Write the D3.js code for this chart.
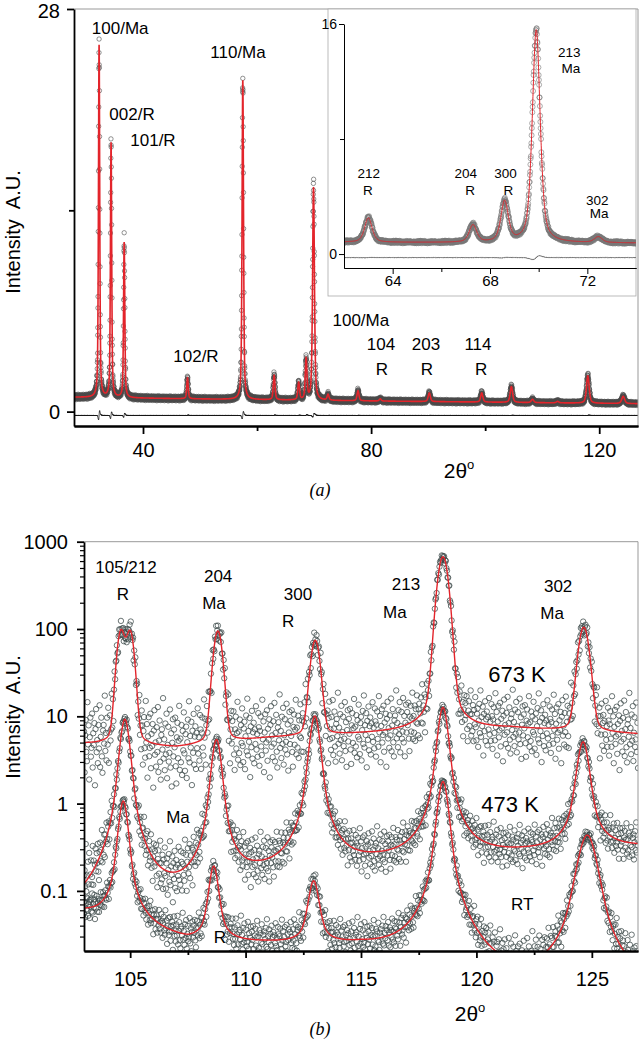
<!DOCTYPE html>
<html>
<head>
<meta charset="utf-8">
<script src="https://cdn.jsdelivr.net/npm/d3@7"></script>
<style>
  body { margin: 0; background: #fff; }
  svg { display: block; font-family: "Liberation Sans", Arial, sans-serif; }
</style>
</head>
<body>
<div id="chart"></div>
<script>
// ---- data ----

// panel (a): peak list of the whole pattern (2theta, height above background, FWHM)
const peaksA = [
    { pos: 32.3, h: 24.5, w: 0.26 },   // 100/Ma
    { pos: 34.4, h: 17.7, w: 0.26 },   // 002/R
    { pos: 36.7, h: 10.8, w: 0.26 },   // 101/R
    { pos: 47.8, h: 1.45, w: 0.3 },    // 102/R
    { pos: 57.5, h: 22.2, w: 0.3 },    // 110/Ma
    { pos: 63.0, h: 1.7, w: 0.36 },    // 212/R
    { pos: 67.3, h: 1.2, w: 0.36 },    // 204/R
    { pos: 68.6, h: 2.8, w: 0.36 },    // 300/R
    { pos: 69.9, h: 14.8, w: 0.38 },   // 213/Ma
    { pos: 72.45, h: 0.4, w: 0.38 },   // 302/Ma
    { pos: 77.7, h: 0.7, w: 0.4 },
    { pos: 81.6, h: 0.15, w: 0.4 },
    { pos: 90.2, h: 0.6, w: 0.45 },
    { pos: 99.4, h: 0.64, w: 0.45 },
    { pos: 104.6, h: 1.1, w: 0.5 },
    { pos: 108.3, h: 0.23, w: 0.5 },
    { pos: 112.7, h: 0.1, w: 0.5 },
    { pos: 118.0, h: 1.9, w: 0.55 },
    { pos: 124.2, h: 0.5, w: 0.6 }
];
const bgPosA = [28, 65, 95, 127];
const bgValA = [1.0, 0.8, 0.68, 0.55];

// panel (b): three temperatures, log scale
const peaks673 = [
    { pos: 104.6, h: 90, w: 0.36 }, { pos: 105.0, h: 88, w: 0.36 },
    { pos: 108.8, h: 90, w: 0.4 }, { pos: 113.02, h: 68, w: 0.42 },
    { pos: 118.55, h: 665, w: 0.48 }, { pos: 124.65, h: 98, w: 0.48 }
];
const bgPos673 = [103, 107, 111, 115, 121.5, 127];
const bgVal673 = [4.8, 4.3, 5.6, 6.2, 7.2, 6.2];

const peaks473 = [
    { pos: 104.77, h: 9.2, w: 0.42 }, { pos: 108.74, h: 5.3, w: 0.42 },
    { pos: 113.0, h: 9.9, w: 0.44 }, { pos: 118.55, h: 12.4, w: 0.44 },
    { pos: 124.62, h: 4.8, w: 0.5 }
];
const bgPos473 = [103, 107, 110.5, 115.5, 122, 127];
const bgVal473 = [0.035, 0.06, 0.12, 0.19, 0.26, 0.31];

const peaksRT = [
    { pos: 104.7, h: 1.03, w: 0.4 }, { pos: 108.62, h: 0.165, w: 0.4 },
    { pos: 112.95, h: 0.105, w: 0.45 }, { pos: 118.55, h: 1.77, w: 0.46 },
    { pos: 124.8, h: 0.43, w: 0.8 }
];
const bgPosRT = [103, 107.5, 111, 115, 118.5, 121.8, 127];
const bgValRT = [0.055, 0.025, 0.024, 0.022, 0.016, 0.005, 0.004];

// scatter of the measured points around the fit (in standard deviations)
const scatter = [
    0.42, -1.13, 0.27, 0.85, -0.36, -0.71, 1.52, -0.08, 0.64, -1.41,
    0.19, 0.93, -0.55, -0.22, 1.08, -0.97, 0.33, -0.12, 0.71, -1.66,
    0.48, 1.24, -0.41, 0.05, -0.84, 0.62, -0.29, 1.37, -1.02, 0.14,
    0.88, -0.63, -1.28, 0.36, 0.57, -0.17, 1.71, -0.49, 0.21, -0.91,
    0.79, -0.33, 1.15, -1.19, 0.02, 0.68, -0.58, -0.26, 1.31, -0.79,
    0.45, -1.47, 0.11, 0.96, -0.38, 0.59, -0.05, 1.02, -0.73, -1.35,
    0.31, 0.83, -0.45, 0.18, 1.44, -0.88, 0.25, -0.61, 0.74, -1.08,
    0.52, -0.19, 1.19, -0.31, -0.95, 0.39, 0.66, -1.23, 0.08, 0.91,
    -0.52, 1.58, -0.68, 0.29, -0.14, 0.81, -1.55, 0.47, -0.36, 1.09,
    -0.82, 0.23, 0.61, -1.01, 0.35, -0.24, 1.27, -0.47, 0.15, -0.76,
    0.99
];

// tick values
const ticksAx = [40, 80, 120], minorAx = [60, 100];
const ticksAy = [0, 28], minorAy = [14];
const ticksIx = [64, 68, 72], minorIx = [66, 70];
const ticksIy = [0, 16], minorIy = [8];
const ticksBx = [105, 110, 115, 120, 125], minorBx = [107.5, 112.5, 117.5, 122.5];
const ticksBy = [0.1, 1, 10, 100, 1000];

// annotations (data coordinates)
const labelsA = [
    { t: "100/Ma", x: 36.0, y: 26.26 }, { t: "002/R", x: 38.07, y: 20.28 },
    { t: "101/R", x: 41.75, y: 18.47 }, { t: "110/Ma", x: 56.66, y: 24.59 },
    { t: "102/R", x: 49.29, y: 3.44 }, { t: "100/Ma", x: 78.2, y: 5.95 },
    { t: "104", x: 81.73, y: 4.28 }, { t: "R", x: 81.9, y: 2.54 },
    { t: "203", x: 89.62, y: 4.28 }, { t: "R", x: 89.8, y: 2.54 },
    { t: "114", x: 98.74, y: 4.28 }, { t: "R", x: 99.3, y: 2.54 }
];
const labelsI = [
    { t: "212", x: 63.02, y: 5.29 }, { t: "R", x: 62.98, y: 4.1 },
    { t: "204", x: 67.0, y: 5.29 }, { t: "R", x: 67.18, y: 4.1 },
    { t: "300", x: 68.64, y: 5.29 }, { t: "R", x: 68.76, y: 4.1 },
    { t: "213", x: 71.26, y: 13.7 }, { t: "Ma", x: 71.32, y: 12.59 },
    { t: "302", x: 72.41, y: 3.41 }, { t: "Ma", x: 72.49, y: 2.5 }
];
const labelsB = [
    { t: "105/212", x: 104.82, y: 443 }, { t: "R", x: 104.69, y: 217 },
    { t: "204", x: 108.81, y: 349 }, { t: "Ma", x: 108.63, y: 171 },
    { t: "300", x: 112.27, y: 217 }, { t: "R", x: 111.84, y: 106 },
    { t: "213", x: 116.95, y: 283 }, { t: "Ma", x: 116.47, y: 135 },
    { t: "302", x: 123.54, y: 268 }, { t: "Ma", x: 123.28, y: 131 },
    { t: "Ma", x: 107.07, y: 0.606 }, { t: "R", x: 108.89, y: 0.0256 },
    { t: "RT", x: 121.98, y: 0.061 }
];
const tempLabels = [{ t: "673 K", x: 121.76, y: 25 }, { t: "473 K", x: 121.46, y: 0.81 }];

// ---- profile model ----
function pv(x, p, eta) {
    const u = (x - p.pos) / (p.w / 2);
    return p.h * (eta / (1 + u * u) + (1 - eta) * Math.exp(-Math.LN2 * u * u));
}
const etaA = 0.5;
const bgA = d3.scaleLinear().domain(bgPosA).range(bgValA).clamp(true);
const fitA = x => bgA(x) + d3.sum(peaksA, p => pv(x, p, etaA));

function makeSeries(peaks, bgPos, bgVal, eta, k, off) {
    const bg = d3.scaleLinear().domain(bgPos).range(bgVal.map(Math.log10)).clamp(true);
    const fit = x => Math.pow(10, bg(x)) + d3.sum(peaks, p => pv(x, p, eta));
    const obs = d3.range(103, 127.001, 0.025).map((x, i) => {
        const f = fit(x);
        const s = scatter[(i + off) % scatter.length];
        return [x, f * Math.pow(10, s * k / Math.sqrt(f))];
    });
    return { fit, obs };
}
const seriesB = [
    makeSeries(peaks673, bgPos673, bgVal673, 0.1, 0.68, 0),
    makeSeries(peaks473, bgPos473, bgVal473, 0.6, 0.09, 33),
    makeSeries(peaksRT, bgPosRT, bgValRT, 0.6, 0.025, 67)
];

// ---- svg ----
const width = 640, height = 1041;
const svg = d3.select("#chart").append("svg")
    .attr("width", width)
    .attr("height", height);

const red = "#e3242b";

const xA = d3.scaleLinear().domain([27.9, 126.8]).range([74, 638]);
const yA = d3.scaleLinear().domain([-1.0, 28]).range([426, 9]);
const xI = d3.scaleLinear().domain([62, 74]).range([344, 636]);
const yI = d3.scaleLinear().domain([-0.97, 16]).range([268, 24]);
const xB = d3.scaleLinear().domain([103, 127]).range([84, 638]);
const yB = d3.scaleLog().domain([0.0205, 1000]).range([951, 541.7]);

const defs = svg.append("defs");
function clip(id, x, y, w, h) {
    defs.append("clipPath").attr("id", id).append("rect")
        .attr("x", x).attr("y", y).attr("width", w).attr("height", h);
}
clip("clipA", 74, 9, 564, 417);
clip("clipI", 344, 20, 292, 248);
clip("clipB", 84, 541.7, 554, 409.3);

// ---- panel (a) main ----
const gA = svg.append("g").attr("clip-path", "url(#clipA)");
const obsA = d3.range(27.9, 126.8, 0.02).map((x, i) => {
    const f = fitA(x);
    return [x, f + scatter[i % scatter.length] * 0.11 * Math.sqrt(f)];
});
gA.append("g").selectAll("circle")
    .data(obsA)
    .join("circle")
    .attr("cx", d => xA(d[0]))
    .attr("cy", d => yA(d[1]))
    .attr("r", 2.2)
    .attr("fill", "none")
    .attr("stroke", "#4a4a4a")
    .attr("stroke-width", 0.6);

const fineA = d3.range(27.9, 126.8, 0.01);
gA.append("path")
    .datum(fineA)
    .attr("fill", "none")
    .attr("stroke", red)
    .attr("stroke-width", 1.6)
    .attr("d", d3.line().x(x => xA(x)).y(x => yA(fitA(x))));

// difference curve
const resA = (x, i) => -0.25 - 0.0025 * (fitA(x + 0.005) - fitA(x - 0.005)) / 0.01
    + scatter[i % scatter.length] * 0.012;
gA.append("path")
    .datum(fineA)
    .attr("fill", "none")
    .attr("stroke", "#111")
    .attr("stroke-width", 0.8)
    .attr("d", d3.line().x(x => xA(x)).y((x, i) => yA(resA(x, i))));

// frame
svg.append("path")
    .attr("d", `M74,9H638V426`)
    .attr("fill", "none").attr("stroke", "#999").attr("stroke-width", 1);

function styleAxis(g, fs, sw) {
    g.selectAll("text").attr("font-size", fs).attr("fill", "#000")
        .attr("font-family", "Liberation Sans, Arial, sans-serif");
    g.selectAll("line").attr("stroke", "#000").attr("stroke-width", sw);
    g.select(".domain").attr("stroke", "#000").attr("stroke-width", sw);
}

svg.append("g").attr("transform", "translate(0,426)")
    .call(d3.axisBottom(xA).tickValues(ticksAx).tickSize(8).tickSizeOuter(0).tickPadding(9))
    .call(g => styleAxis(g, 20, 1.8));
svg.append("g").attr("transform", "translate(0,426)")
    .call(d3.axisBottom(xA).tickValues(minorAx).tickSize(5).tickFormat("").tickSizeOuter(0))
    .call(g => styleAxis(g, 20, 1.8));
svg.append("g").attr("transform", "translate(74,0)")
    .call(d3.axisLeft(yA).tickValues(ticksAy).tickSize(7).tickSizeOuter(0).tickPadding(7))
    .call(g => styleAxis(g, 20, 1.8))
    .call(g => g.selectAll(".tick text").filter(d => d === 28).attr("dy", "0.42em"));
svg.append("g").attr("transform", "translate(74,0)")
    .call(d3.axisLeft(yA).tickValues(minorAy).tickSize(5).tickFormat("").tickSizeOuter(0))
    .call(g => g.select(".domain").remove())
    .call(g => styleAxis(g, 20, 1.8));

svg.append("g").selectAll("text")
    .data(labelsA)
    .join("text")
    .attr("x", d => xA(d.x))
    .attr("y", d => yA(d.y))
    .attr("text-anchor", "middle")
    .attr("font-size", 17)
    .text(d => d.t);

// ---- inset ----
svg.append("rect")
    .attr("x", 328).attr("y", 9).attr("width", 308).attr("height", 287)
    .attr("fill", "#fff").attr("stroke", "#aaa").attr("stroke-width", 0.8);

const gI = svg.append("g").attr("clip-path", "url(#clipI)");
const gridI = d3.range(62, 74.001, 0.01);
gI.append("g").selectAll("circle")
    .data(gridI.map((x, i) => {
        const f = fitA(x);
        return [x, f + scatter[(i * 3) % scatter.length] * 0.06 * Math.sqrt(f)];
    }))
    .join("circle")
    .attr("cx", d => xI(d[0]))
    .attr("cy", d => yI(d[1]))
    .attr("r", 2.5)
    .attr("fill", "none")
    .attr("stroke", "#777")
    .attr("stroke-width", 0.6);
gI.append("path")
    .datum(d3.range(62, 74.001, 0.005))
    .attr("fill", "none")
    .attr("stroke", red)
    .attr("stroke-width", 1)
    .attr("d", d3.line().x(x => xI(x)).y(x => yI(fitA(x))));
gI.append("path")
    .datum(gridI)
    .attr("fill", "none")
    .attr("stroke", "#222")
    .attr("stroke-width", 0.7)
    .attr("d", d3.line().x(x => xI(x)).y((x, i) => yI(resA(x, i))));

svg.append("g").attr("transform", "translate(0,268)")
    .call(d3.axisBottom(xI).tickValues(ticksIx).tickSize(6).tickSizeOuter(0).tickPadding(1.5))
    .call(g => styleAxis(g, 15, 1));
svg.append("g").attr("transform", "translate(0,268)")
    .call(d3.axisBottom(xI).tickValues(minorIx).tickSize(4).tickFormat("").tickSizeOuter(0))
    .call(g => styleAxis(g, 15, 1));
svg.append("g").attr("transform", "translate(344,0)")
    .call(d3.axisLeft(yI).tickValues(ticksIy).tickSize(5).tickSizeOuter(0).tickPadding(2))
    .call(g => styleAxis(g, 14, 1));
svg.append("g").attr("transform", "translate(344,0)")
    .call(d3.axisLeft(yI).tickValues(minorIy).tickSize(4).tickFormat("").tickSizeOuter(0))
    .call(g => g.select(".domain").remove())
    .call(g => styleAxis(g, 14, 1));

svg.append("g").selectAll("text")
    .data(labelsI)
    .join("text")
    .attr("x", d => xI(d.x))
    .attr("y", d => yI(d.y))
    .attr("text-anchor", "middle")
    .attr("font-size", 13.5)
    .text(d => d.t);

// ---- panel (b) ----
const gB = svg.append("g").attr("clip-path", "url(#clipB)");
seriesB.forEach(s => {
    gB.append("g").selectAll("circle")
        .data(s.obs)
        .join("circle")
        .attr("cx", d => xB(d[0]))
        .attr("cy", d => yB(d[1]))
        .attr("r", 2.7)
        .attr("fill", "none")
        .attr("stroke", "#3a4747")
        .attr("stroke-width", 0.75);
});
const fineB = d3.range(103, 127.001, 0.01);
seriesB.forEach(s => {
    gB.append("path")
        .datum(fineB)
        .attr("fill", "none")
        .attr("stroke", red)
        .attr("stroke-width", 1.4)
        .attr("d", d3.line().x(x => xB(x)).y(x => yB(Math.max(s.fit(x), 0.005))));
});

svg.append("path")
    .attr("d", `M84,541.7H638V951`)
    .attr("fill", "none").attr("stroke", "#999").attr("stroke-width", 1);

const minorBy = [];
[0.01, 0.1, 1, 10, 100].forEach(d => d3.range(2, 10).forEach(m => {
    const v = d * m;
    if (v > 0.0205 && v < 1000) minorBy.push(v);
}));

svg.append("g").attr("transform", "translate(0,951)")
    .call(d3.axisBottom(xB).tickValues(ticksBx).tickSize(7).tickSizeOuter(0).tickPadding(14))
    .call(g => styleAxis(g, 20, 1.8));
svg.append("g").attr("transform", "translate(0,951)")
    .call(d3.axisBottom(xB).tickValues(minorBx).tickSize(4).tickFormat("").tickSizeOuter(0))
    .call(g => styleAxis(g, 20, 1.8));
svg.append("g").attr("transform", "translate(84,0)")
    .call(d3.axisLeft(yB).tickValues(ticksBy).tickSize(7).tickSizeOuter(0).tickPadding(9)
        .tickFormat(d => d < 1 ? String(d) : d3.format("d")(d)))
    .call(g => styleAxis(g, 20, 1.8));
svg.append("g").attr("transform", "translate(84,0)")
    .call(d3.axisLeft(yB).tickValues(minorBy).tickSize(4).tickFormat("").tickSizeOuter(0))
    .call(g => g.select(".domain").remove())
    .call(g => styleAxis(g, 20, 1.2));

svg.append("g").selectAll("text")
    .data(labelsB)
    .join("text")
    .attr("x", d => xB(d.x))
    .attr("y", d => yB(d.y))
    .attr("text-anchor", "middle")
    .attr("font-size", 17)
    .text(d => d.t);
svg.append("g").selectAll("text")
    .data(tempLabels)
    .join("text")
    .attr("x", d => xB(d.x))
    .attr("y", d => yB(d.y))
    .attr("text-anchor", "middle")
    .attr("font-size", 22)
    .text(d => d.t);

// ---- titles ----
function yTitle(cy) {
    svg.append("text")
        .attr("transform", `translate(20,${cy}) rotate(-90)`)
        .attr("text-anchor", "middle")
        .attr("font-size", 20)
        .style("white-space", "pre")
        .text("Intensity  A.U.");
}
yTitle(232);
yTitle(717);

function xTitle(cx, by) {
    const t = svg.append("text")
        .attr("x", cx).attr("y", by)
        .attr("text-anchor", "middle")
        .attr("font-size", 21);
    t.append("tspan").text("2θ");
    t.append("tspan").attr("font-size", 13).attr("dy", -9).text("o");
}
xTitle(459, 478);
xTitle(470, 1021);

svg.append("text").attr("x", 320).attr("y", 496)
    .attr("text-anchor", "middle").attr("font-size", 18)
    .attr("font-family", "Liberation Serif, serif").attr("font-style", "italic")
    .text("(a)");
svg.append("text").attr("x", 320).attr("y", 1035)
    .attr("text-anchor", "middle").attr("font-size", 18)
    .attr("font-family", "Liberation Serif, serif").attr("font-style", "italic")
    .text("(b)");
</script>
</body>
</html>
